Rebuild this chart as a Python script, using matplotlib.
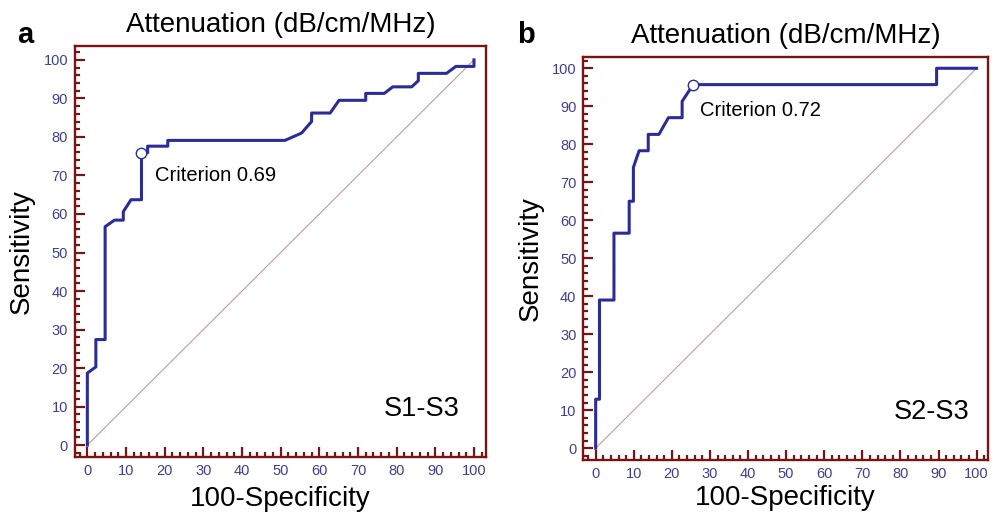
import matplotlib
matplotlib.use("Agg")
import matplotlib.pyplot as plt
from matplotlib.ticker import MultipleLocator

plt.rcParams['font.family'] = ['Liberation Sans', 'DejaVu Sans']

# ROC panel a (S1-S3)
a_fpr = [0, 0, 2.2, 2.2, 4.6, 4.6, 7.0, 9.3, 9.3, 11.3, 14.0, 14.0, 15.6, 15.6,
         20.8, 20.8, 51.1, 55.4, 58.0, 58.0, 62.8, 65.1, 72.0, 72.0, 76.8, 79.0,
         83.9, 85.6, 85.6, 92.9, 95.3, 100, 100]
a_sens = [0, 18.7, 20.3, 27.4, 27.4, 56.7, 58.4, 58.4, 60.6, 63.7, 63.7, 75.9, 75.9, 77.6,
          77.6, 79.1, 79.1, 81.0, 84.0, 86.2, 86.2, 89.5, 89.5, 91.3, 91.3, 93.0,
          93.0, 94.6, 96.5, 96.5, 98.3, 98.3, 100]
a_crit = (14.0, 75.9)

# ROC panel b (S2-S3)
b_fpr = [0, 0, 1.0, 1.0, 4.8, 4.8, 8.8, 8.8, 9.9, 9.9, 11.4, 13.8, 13.8, 16.6,
         19.1, 22.7, 22.7, 25.6, 89.5, 89.5, 100]
b_sens = [0, 12.9, 12.9, 39.0, 39.0, 56.6, 56.6, 65.0, 65.0, 73.9, 78.3, 78.3, 82.6, 82.6,
          87.0, 87.0, 91.3, 95.7, 95.7, 100, 100]
b_crit = (25.6, 95.7)

ticks = [0, 10, 20, 30, 40, 50, 60, 70, 80, 90, 100]

spine_col = '#7a1414'
line_col = '#2b2d96'
lab_col = '#3d3f93'
diag_col = '#c79a9a'

fig = plt.figure(figsize=(9.93, 5.14), dpi=100)
ax1 = fig.add_axes([0.0755, 0.1115, 0.4139, 0.799])
ax2 = fig.add_axes([0.5874, 0.1051, 0.4076, 0.7846])

panels = [
    (ax1, a_fpr, a_sens, a_crit, 'Criterion 0.69', (17.5, 70.1), 'S1-S3', (96.4, 9.3),
     (-3.2, 103.1), (-3.0, 103.6), 6),
    (ax2, b_fpr, b_sens, b_crit, 'Criterion 0.72', (27.4, 89.0), 'S2-S3', (98.2, 9.4),
     (-3.25, 103.0), (-3.1, 103.05), 3),
]

for ax, fx, sy, crit, ctxt, cpos, lbl, lpos, xl, yl, xpad in panels:
    ax.plot([0, 100], [0, 100], color=diag_col, lw=0.8)
    ax.plot(fx, sy, color=line_col, lw=2.2)
    ax.plot([crit[0]], [crit[1]], 'o', ms=7.5, mfc='white', mec=line_col, mew=1.0)
    ax.text(cpos[0], cpos[1], ctxt, fontsize=14.5, va='center', ha='left')
    ax.text(lpos[0], lpos[1], lbl, fontsize=19.5, va='center', ha='right')
    ax.set_xlim(*xl)
    ax.set_ylim(*yl)
    ax.set_xticks(ticks)
    ax.set_yticks(ticks)
    ax.xaxis.set_minor_locator(MultipleLocator(2))
    ax.yaxis.set_minor_locator(MultipleLocator(2))
    for s in ax.spines.values():
        s.set_color(spine_col)
        s.set_linewidth(1.7)
    ax.tick_params(which='major', direction='in', length=7, width=1.6,
                   color=spine_col, labelcolor=lab_col, labelsize=10.5, pad=5)
    ax.tick_params(which='minor', direction='in', length=3.5, width=1.6, color=spine_col)
    ax.tick_params(top=False, right=False, which='both')
    ax.set_title('Attenuation (dB/cm/MHz)', fontsize=20, pad=10)
    ax.set_xlabel('100-Specificity', fontsize=20, labelpad=xpad)
    ax.set_ylabel('Sensitivity', fontsize=20, labelpad=6)

fig.text(0.025, 0.932, 'a', fontsize=21, fontweight='bold', ha='center', va='center')
fig.text(0.53, 0.932, 'b', fontsize=21, fontweight='bold', ha='center', va='center')

fig.savefig('out.png', dpi=100)
